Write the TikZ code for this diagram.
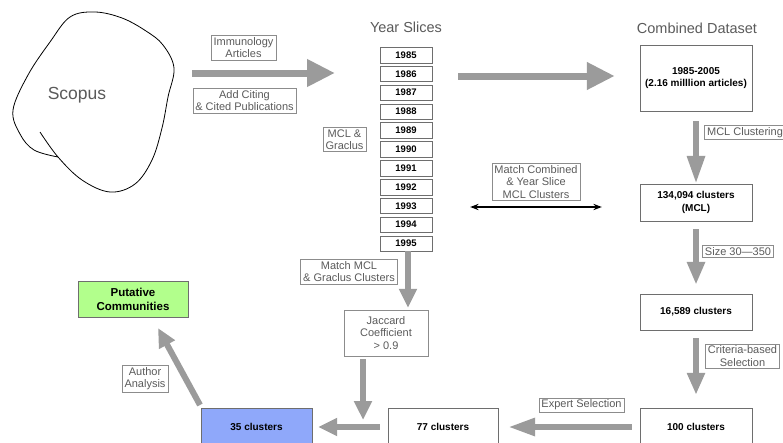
\documentclass[tikz,border=0pt]{standalone}
\usepackage{fontspec}
\setmainfont{Liberation Sans}
\usepackage{tikz}
\usetikzlibrary{
    positioning,
    arrows.meta,
    calc
}
\definecolor{arrowGray}{RGB}{155, 155, 155}
\definecolor{lblGray}{RGB}{140, 140, 140}
\definecolor{boxGray}{RGB}{110, 110, 110}
\definecolor{txtGray}{RGB}{90, 90, 90}
\definecolor{clusterBlue}{RGB}{143, 168, 250}
\definecolor{communityGreen}{RGB}{178, 255, 140}

\tikzset{
    lbl/.style={draw=lblGray, text=txtGray, font=\fontsize{11}{12.5}\selectfont, align=center, inner xsep=2.5pt, inner ysep=2pt},
    databox/.style={draw=boxGray, font=\bfseries\fontsize{10}{12.5}\selectfont, align=center, minimum width=112pt, inner sep=0pt},
    yearbox/.style={draw=boxGray, font=\bfseries\fontsize{9.5}{11}\selectfont, minimum width=52pt, minimum height=15.5pt, inner sep=0pt},
    heading/.style={text=txtGray, font=\fontsize{14.5}{16}\selectfont},
    bigarrow/.style={draw=arrowGray, line width=7pt, -{Triangle[length=28pt, width=26pt]}},
    flowarrow/.style={draw=arrowGray, line width=6pt, -{Triangle[length=19pt, width=17pt]}}
}

\begin{document}
\begin{tikzpicture}[x=1pt, y=-1pt, >=Stealth]
    \useasboundingbox (0,0) rectangle (783,442);

    % Scopus outline
    \draw[line width=0.8pt] plot[smooth, tension=0.6] coordinates {
        (40,132) (58,157) (82,180) (110,192) (135,184) (152,160) (162,128)
        (168,97) (174,68) (163,45) (146,31) (122,18) (95,12) (70,17)
        (50,42) (28,75) (13,110) (20,134) (34,150) (58,157)};
    \node[heading, font=\fontsize{17.5}{20}\selectfont] (scopus) at (77,95) {Scopus};

    % column titles
    \node[heading] (yeartitle) at (406,27) {Year Slices};
    \node[heading] (combtitle) at (697,28) {Combined Dataset};

    % year slices
    \foreach \yr [count=\i from 0] in {1985,...,1995}
        \node[yearbox] (y\yr) at (406,55+18.85*\i) {\yr};

    % combined dataset column
    \node[databox, minimum height=66pt] (combined) at (696,78) {1985-2005\\(2.16 milllion articles)};
    \node[databox, minimum height=37pt] (mcl) at (696,202.5) {134,094 clusters\\(MCL)};
    \node[databox, minimum height=36pt] (size) at (696,312) {16,589 clusters};
    \node[databox, minimum height=38pt] (c100) at (696,427) {100 clusters};
    \node[databox, minimum width=110pt, minimum height=38pt] (c77) at (443,427) {77 clusters};
    \node[databox, minimum width=111pt, minimum height=38pt, fill=clusterBlue] (c35) at (256.5,427) {35 clusters};
    \node[databox, minimum width=110pt, minimum height=36pt, fill=communityGreen,
        font=\bfseries\fontsize{11.5}{14}\selectfont] (putative) at (133,299) {Putative\\Communities};

    % step labels
    \node[lbl] (immu) at (243.5,47.5) {Immunology\\Articles};
    \node[lbl] (cite) at (244.5,100.5) {Add Citing\\\& Cited Publications};
    \node[lbl] (mclgr) at (344.5,139.5) {MCL \&\\Graclus};
    \node[lbl] (mclclust) at (745,132.5) {MCL Clustering};
    \node[lbl] (matchcomb) at (536,182) {Match Combined\\\& Year Slice\\MCL Clusters};
    \node[lbl] (sizelbl) at (738,251.5) {Size 30—350};
    \node[lbl] (criteria) at (742.5,356) {Criteria-based\\Selection};
    \node[lbl] (expert) at (581.5,405) {Expert Selection};
    \node[lbl] (matchmcl) at (349,271.5) {Match MCL\\\& Graclus Clusters};
    \node[lbl, minimum width=84pt, minimum height=46pt] (jaccard) at (386,333) {Jaccard\\Coefficient\\> 0.9};
    \node[lbl] (author) at (145,378.5) {Author\\Analysis};

    \coordinate (scopusout) at (192,73);
    \coordinate (yearsin) at (335,73);
    \coordinate (merge) at (363,420);
    \coordinate (ptip) at (158,328);
    \coordinate (pbase) at (200,405);

    % arrows
    \draw[bigarrow] (scopusout) -- (yearsin);
    \draw[bigarrow, shorten <=26pt, shorten >=25pt] (y1986.east |- 0,76) -- (combined.west |- 0,76);
    \draw[flowarrow, -{Triangle[length=28pt, width=17pt]}, shorten <=10pt] (combined.south) -- (mcl.north);
    \draw[flowarrow, -{Triangle[length=23pt, width=17pt]}, shorten <=8pt, shorten >=9pt] (mcl.south) -- (size.north);
    \draw[flowarrow, -{Triangle[length=22pt, width=17pt]}, shorten <=8pt, shorten >=13pt] (size.south) -- (c100.north);
    \draw[flowarrow, -{Triangle[length=27pt, width=17pt]}, shorten <=8pt, shorten >=10pt] (c100.west) -- (c77.east);
    \draw[flowarrow, shorten <=8pt, shorten >=6pt] (c77.west) -- (c35.east);
    \draw[flowarrow, shorten >=2pt] (408,0 |- y1995.south) -- (408,0 |- jaccard.north);
    \draw[flowarrow, shorten <=3pt] (merge |- jaccard.south) -- (merge);
    \draw[flowarrow] (pbase) -- (ptip);
    \draw[<->, line width=1.2pt, shorten <=38pt, shorten >=38pt] (y1993.east |- 0,207) -- (mcl.west |- 0,207);
\end{tikzpicture}
\end{document}
